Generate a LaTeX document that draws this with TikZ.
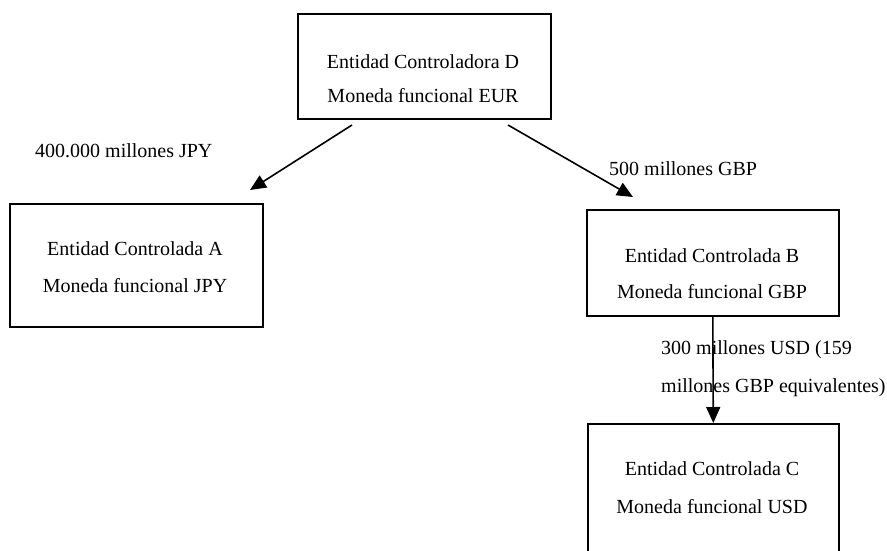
\documentclass[tikz,border=0pt]{standalone}
\usepackage{fontspec}
\setmainfont{Liberation Serif}
\usetikzlibrary{arrows.meta}
\begin{document}
\begin{tikzpicture}[x=1pt,y=-1pt,
  box/.style={draw=black,line width=1.6pt,rectangle,inner sep=0pt,anchor=north west},
  txt/.style={inner sep=0pt,anchor=base,font=\fontsize{20}{24}\selectfont},
  lbl/.style={inner sep=0pt,anchor=base west,font=\fontsize{20}{24}\selectfont},
  conn/.style={line width=1.6pt,-{Triangle[length=16pt,width=14pt]}}]
\useasboundingbox (0,0) rectangle (887,550);
\clip (0,0) rectangle (887,550);
\fill[white] (0,0) rectangle (887,550);
% boxes
\node[box,minimum width=253pt,minimum height=105pt] (D) at (297,13) {};
\node[box,minimum width=253pt,minimum height=123pt] (A) at (9,203) {};
\node[box,minimum width=252pt,minimum height=106pt] (B) at (586,209) {};
\node[box,minimum width=251pt,minimum height=140pt] (C) at (587,423) {};
% box texts
\node[txt] (d1) at (423,68) {Entidad Controladora D};
\node[txt] (d2) at (423,102) {Moneda funcional EUR};
\node[txt] (a1) at (135,255) {Entidad Controlada A};
\node[txt] (a2) at (135,292) {Moneda funcional JPY};
\node[txt] (b1) at (712,262) {Entidad Controlada B};
\node[txt] (b2) at (712,298) {Moneda funcional GBP};
\node[txt] (c1) at (712,475) {Entidad Controlada C};
\node[txt] (c2) at (712,513) {Moneda funcional USD};
% connectors
\coordinate (la) at (352,125);
\coordinate (lb) at (250,190);
\coordinate (ra) at (508,125);
\coordinate (rb) at (633,197);
\draw[conn] (la) -- (lb);
\draw[conn] (ra) -- (rb);
\draw[conn] (B.south) -- (C.north);
% labels
\node[lbl] (l1) at (35,157) {400.000 millones JPY};
\node[lbl] (l2) at (609,175) {500 millones GBP};
\node[lbl] (l3) at (661,354) {300 millones USD (159};
\node[lbl] (l4) at (661,392) {millones GBP equivalentes)};
\end{tikzpicture}
\end{document}
